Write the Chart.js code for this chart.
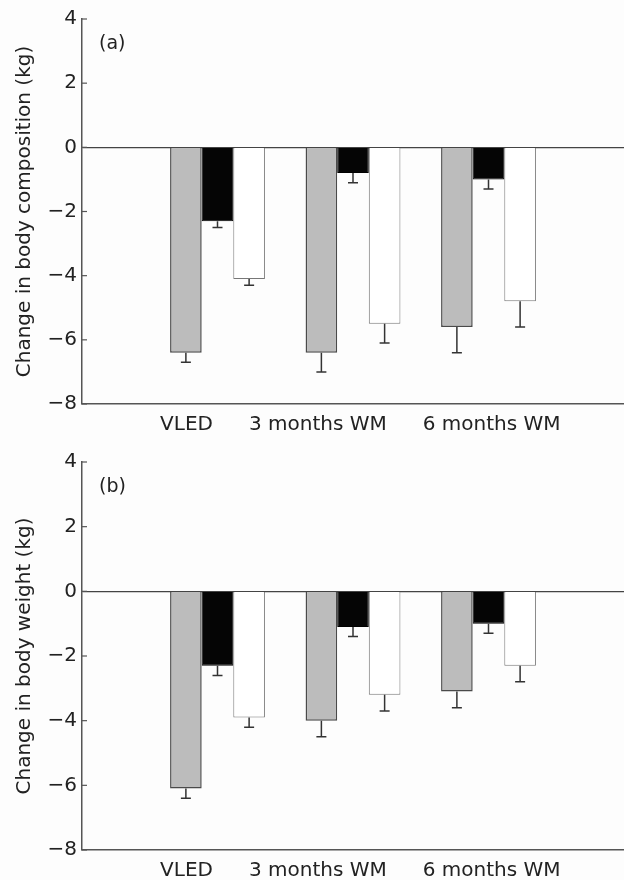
<!DOCTYPE html>
<html>
<head>
<meta charset="utf-8">
<script src="https://cdn.jsdelivr.net/npm/chart.js@4.4.1/dist/chart.umd.min.js"></script>
<style>
  html, body { margin: 0; padding: 0; background: #fdfdfd; }
  .panel { position: relative; width: 624px; height: 440px; }
</style>
</head>
<body>
<div class="panel"><canvas id="chartA"></canvas></div>
<div class="panel"><canvas id="chartB"></canvas></div>
<script>
// 데이터
const categories = ["VLED", "3 months WM", "6 months WM"];
const yTicks = [4, 2, 0, -2, -4, -6, -8];

// (a) change in body composition
const compGrey = [-6.4, -6.4, -5.6];
const compBlack = [-2.3, -0.8, -1.0];
const compWhite = [-4.1, -5.5, -4.8];
const compGreySE = [0.3, 0.6, 0.8];
const compBlackSE = [0.2, 0.3, 0.3];
const compWhiteSE = [0.2, 0.6, 0.8];

// (b) change in body weight
const weightGrey = [-6.1, -4.0, -3.1];
const weightBlack = [-2.3, -1.1, -1.0];
const weightWhite = [-3.9, -3.2, -2.3];
const weightGreySE = [0.3, 0.5, 0.5];
const weightBlackSE = [0.3, 0.3, 0.3];
const weightWhiteSE = [0.3, 0.5, 0.5];

const FONT = "'DejaVu Sans', 'Liberation Sans', sans-serif";
const AXIS_COLOR = "#555";

// 빈 카테고리를 양쪽에 붙여서 x축이 0~4 범위가 되도록
function pad(arr) {
  return [null, ...arr, null];
}

function makeDataset(values, se, fill, border, width) {
  return {
    data: pad(values),
    se: pad(se),
    backgroundColor: fill,
    borderColor: border,
    borderWidth: width,
    categoryPercentage: 0.7,
    barPercentage: 1.0,
  };
}

// 에러바, 눈금, 패널 글자, 카테고리 라벨
const extrasPlugin = {
  id: "extras",
  afterDatasetsDraw(chart) {
    const ctx = chart.ctx;
    const yScale = chart.scales.y;
    ctx.save();
    ctx.strokeStyle = "#333";
    ctx.lineWidth = 1.5;
    chart.data.datasets.forEach((ds, i) => {
      const meta = chart.getDatasetMeta(i);
      meta.data.forEach((bar, j) => {
        const v = ds.data[j];
        if (v === null) return;
        const end = yScale.getPixelForValue(v - ds.se[j]);
        ctx.beginPath();
        ctx.moveTo(bar.x, bar.y);
        ctx.lineTo(bar.x, end);
        ctx.moveTo(bar.x - 5, end);
        ctx.lineTo(bar.x + 5, end);
        ctx.stroke();
      });
    });
    ctx.restore();
  },
  afterDraw(chart, args, opts) {
    const ctx = chart.ctx;
    const area = chart.chartArea;
    const yScale = chart.scales.y;
    ctx.save();

    // 안쪽 눈금
    ctx.strokeStyle = AXIS_COLOR;
    ctx.lineWidth = 1.2;
    yScale.ticks.forEach((t) => {
      const py = yScale.getPixelForValue(t.value);
      ctx.beginPath();
      ctx.moveTo(area.left, py);
      ctx.lineTo(area.left + 5, py);
      ctx.stroke();
    });

    // 패널 글자 (a), (b)
    ctx.fillStyle = "#222";
    ctx.font = "19px " + FONT;
    ctx.textAlign = "left";
    ctx.textBaseline = "middle";
    ctx.fillText(opts.letter, area.left + 17, area.top + 25);

    // 카테고리 라벨은 한 줄로 이어서
    const firstBar = chart.getDatasetMeta(0).data[1];
    let x = firstBar.x - firstBar.width / 2 - 10;
    ctx.font = "20px " + FONT;
    ctx.textBaseline = "alphabetic";
    categories.forEach((label) => {
      ctx.fillText(label, x, area.bottom + 26);
      x += ctx.measureText(label).width + 36;
    });
    ctx.restore();
  },
};

function makeChart(id, letter, yTitle, grey, black, white, greySE, blackSE, whiteSE, top, bottom) {
  const ctx = document.getElementById(id).getContext("2d");
  return new Chart(ctx, {
    type: "bar",
    data: {
      labels: pad(categories).map((c) => c || ""),
      datasets: [
        makeDataset(grey, greySE, "#bcbcbc", "#4a4a4a", 1.5),
        makeDataset(black, blackSE, "#050505", "#000", 1),
        makeDataset(white, whiteSE, "#ffffff", "#777", 1),
      ],
    },
    options: {
      responsive: true,
      maintainAspectRatio: false,
      animation: false,
      layout: { padding: { top: top, right: 0, bottom: 0, left: 0 } },
      plugins: {
        legend: { display: false },
        tooltip: { enabled: false },
        extras: { letter: letter },
      },
      scales: {
        x: {
          offset: false,
          grid: { display: false },
          ticks: { display: false },
          border: { display: true, color: AXIS_COLOR, width: 1.5 },
          afterFit: (scale) => {
            scale.height = bottom;
          },
        },
        y: {
          min: -8,
          max: 4,
          afterBuildTicks: (scale) => {
            scale.ticks = yTicks.map((v) => ({ value: v }));
          },
          grid: {
            drawTicks: false,
            color: (c) => (c.tick && c.tick.value === 0 ? "#444" : "rgba(0,0,0,0)"),
            lineWidth: 1.2,
          },
          border: { display: true, color: AXIS_COLOR, width: 1.5 },
          ticks: {
            padding: 5,
            color: "#222",
            font: { family: FONT, size: 20 },
            callback: (v) => String(v).replace("-", "\u2212"),
          },
          title: {
            display: true,
            text: yTitle,
            color: "#222",
            font: { family: FONT, size: 20 },
            padding: { top: 13, bottom: 0 },
          },
          afterFit: (scale) => {
            scale.width = 82;
          },
        },
      },
    },
    plugins: [extrasPlugin],
  });
}

makeChart("chartA", "(a)", "Change in body composition (kg)",
  compGrey, compBlack, compWhite, compGreySE, compBlackSE, compWhiteSE, 19, 36);
makeChart("chartB", "(b)", "Change in body weight (kg)",
  weightGrey, weightBlack, weightWhite, weightGreySE, weightBlackSE, weightWhiteSE, 22, 30);
</script>
</body>
</html>
